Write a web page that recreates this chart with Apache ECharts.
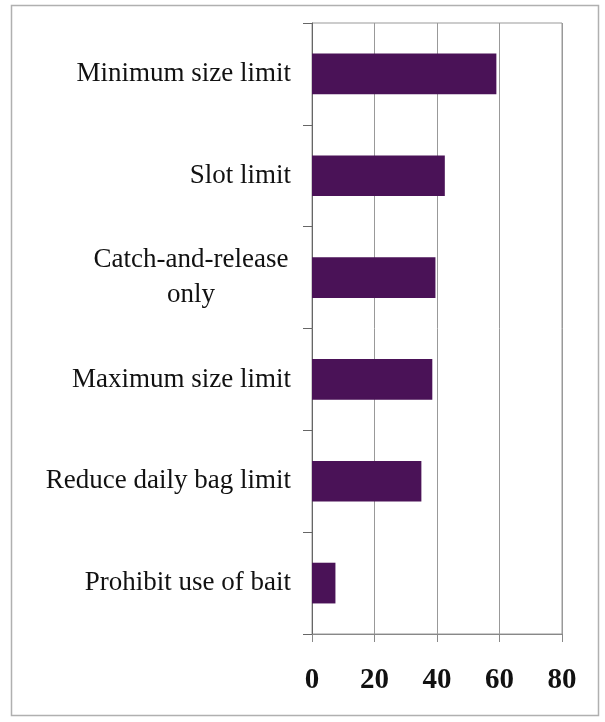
<!DOCTYPE html>
<html>
<head>
<meta charset="utf-8">
<script src="https://cdn.jsdelivr.net/npm/echarts@6/dist/echarts.min.js"></script>
<style>html,body{margin:0;padding:0;background:#fff;}#c{width:605px;height:722px;}</style>
</head>
<body>
<div id="c"></div>
<script>
var categories = ["Prohibit use of bait", "Reduce daily bag limit", "Maximum size limit", "Catch-and-release\nonly", "Slot limit", "Minimum size limit"];
var values = [7.5, 35, 38.5, 39.5, 42.5, 59];
var xTicks = [0, 20, 40, 60, 80];

var chart = echarts.init(document.getElementById('c'), null, {renderer: 'canvas'});
chart.setOption({
  backgroundColor: '#ffffff',
  animation: false,
  graphic: [{
    type: 'rect', shape: {x: 11.5, y: 5.5, width: 587, height: 710},
    style: {fill: 'none', stroke: '#b0b0b0', lineWidth: 1.5}, silent: true
  }],
  grid: {left: 312, right: 43, top: 23, bottom: 88, show: true, borderColor: '#999', borderWidth: 1, backgroundColor: 'transparent'},
  xAxis: {
    type: 'value', min: xTicks[0], max: xTicks[xTicks.length - 1], interval: 20,
    axisLine: {show: true, lineStyle: {color: '#888', width: 1}},
    axisTick: {show: true, inside: false, length: 8, lineStyle: {color: '#888'}},
    splitLine: {show: true, lineStyle: {color: '#999', width: 1}},
    axisLabel: {color: '#111', fontFamily: 'Liberation Serif', fontWeight: 'bold', fontSize: 29, margin: 32}
  },
  yAxis: {
    type: 'category', data: categories,
    axisLine: {show: true, lineStyle: {color: '#666', width: 1}},
    axisTick: {show: true, length: 9, alignWithLabel: false, lineStyle: {color: '#666'}},
    splitLine: {show: false},
    axisLabel: {
      color: '#111', fontFamily: 'Liberation Serif', fontSize: 27, margin: 21, lineHeight: 35, align: 'right',
      formatter: function (v) {
        if (v.indexOf('\n') >= 0) {
          return v.split('\n').map(function (s) { return '{c|' + s + '}'; }).join('\n');
        }
        return v;
      },
      rich: {
        c: {width: 200, align: 'center', fontFamily: 'Liberation Serif', fontSize: 27, lineHeight: 35, color: '#111'}
      }
    }
  },
  series: [{
    type: 'bar', data: values, barWidth: '40%',
    itemStyle: {color: '#4a1257'}
  }]
});
</script>
</body>
</html>
